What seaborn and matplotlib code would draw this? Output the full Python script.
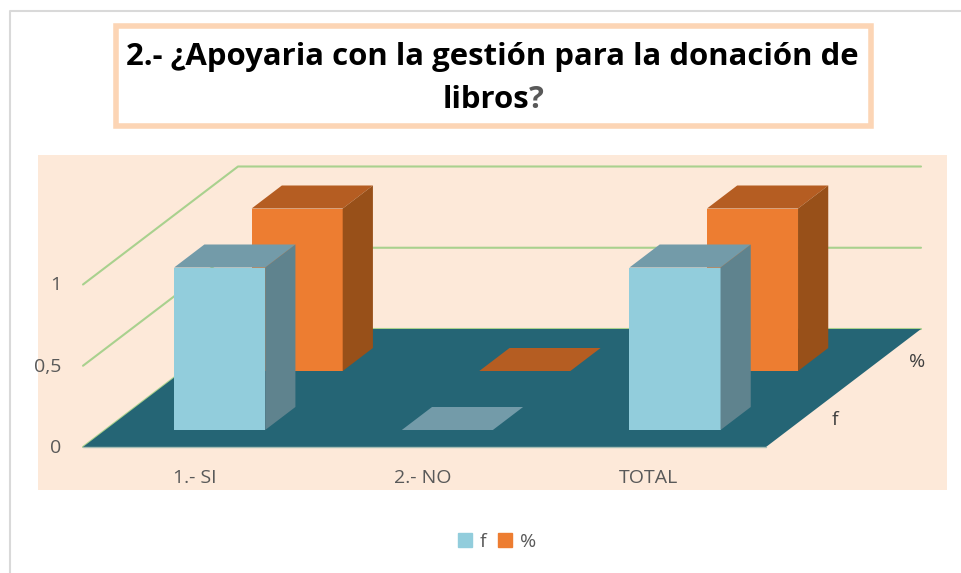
import numpy as np
import seaborn as sns
from matplotlib import pyplot as plt
from matplotlib.patches import Patch, Polygon, Rectangle

categories = ["1.- SI", "2.- NO", "TOTAL"]
f_values = [1, 0, 1]
pct_values = [1, 0, 1]
y_ticks = [0, 0.5, 1]
y_tick_labels = ["0", "0,5", "1"]
wall_levels = [0.5, 1]

W, H = 961, 573
PX_X = 227.67   # pixels per category
PX_Y = 162.5    # pixels per value unit
DEPTH_X = 155 / PX_X   # full floor depth, in data units
DEPTH_Y = 118 / PX_Y
BAR_DEPTH = 0.195
BAR_W = 0.4
TEXT = "#595959"

sns.set_theme(style="white")
plt.rcParams["font.family"] = ["Open Sans", "DejaVu Sans"]

fig = plt.figure(figsize=(W / 100, H / 100), dpi=100, facecolor="white")

# pixel axes for the page furniture
page = fig.add_axes([0, 0, 1, 1], zorder=0)
page.set_xlim(0, W)
page.set_ylim(H, 0)
page.axis("off")
page.plot([10, 10, W], [H, 11, 11], color="#d9d9d9", lw=1.5)
page.add_patch(Rectangle((38, 155), 909, 335, color="#fde9d9", lw=0))
page.add_patch(Rectangle((116, 26), 755, 100, fc="white", ec="#fcd5b5", lw=4))

line1 = page.text(492.5, 57, "2.- ¿Apoyaria con la gestión para la donación de",
                  ha="center", va="center", fontsize=22.4, fontweight="bold", color="black")
line2 = page.text(485.5, 100, "libros", ha="center", va="center",
                  fontsize=22.4, fontweight="bold", color="black")
page.annotate("?", xy=(1, 0), xycoords=line2, va="bottom", ha="left",
              fontsize=22.4, fontweight="bold", color="#595959")

# chart axes: x in categories, y in values
ax = fig.add_axes([0, 0, 1, 1], zorder=1)
ax.patch.set_alpha(0)
x_left = -0.5 - 83 / PX_X
y_bottom = -(H - 447) / PX_Y


def set_limits():
    ax.set_xlim(x_left, x_left + W / PX_X)
    ax.set_ylim(y_bottom, y_bottom + H / PX_Y)


# floor and walls
x0, x1 = -0.5, len(categories) - 0.5
ax.add_patch(Polygon([(x0, 0), (x1, 0), (x1 + DEPTH_X, DEPTH_Y), (x0 + DEPTH_X, DEPTH_Y)],
                     fc="#256575", ec="none", zorder=1))
ax.plot([x0, x0 + DEPTH_X, x1 + DEPTH_X], [0, DEPTH_Y, DEPTH_Y], color="#a9d18e", lw=1.5, zorder=0.5)
ax.plot([x0, x1], [0, 0], color="#a7bdb5", lw=1, zorder=1.1)
for level in wall_levels:
    ax.plot([x0, x0 + DEPTH_X, x1 + DEPTH_X],
            [level, level + DEPTH_Y, level + DEPTH_Y], color="#a9d18e", lw=1.5, zorder=0.5)


def draw_series(values, depth, front, top, side, z):
    xs = np.arange(len(values)) + DEPTH_X * depth + 0.5 / PX_X
    before = len(ax.patches)
    sns.barplot(x=xs, y=values, native_scale=True, width=BAR_W, color=front,
                saturation=1, linewidth=0, ax=ax, zorder=z)
    dy = DEPTH_Y * depth
    dxb, dyb = DEPTH_X * BAR_DEPTH, DEPTH_Y * BAR_DEPTH
    for bar in ax.patches[before:]:
        bar.set_y(dy)
        bx, bw, bh = bar.get_x(), bar.get_width(), bar.get_height()
        ytop = dy + bh
        ax.add_patch(Polygon([(bx, ytop), (bx + bw, ytop), (bx + bw + dxb, ytop + dyb), (bx + dxb, ytop + dyb)],
                             fc=top, ec="none", zorder=z))
        if bh > 0:
            ax.add_patch(Polygon([(bx + bw, dy), (bx + bw + dxb, dy + dyb), (bx + bw + dxb, ytop + dyb), (bx + bw, ytop)],
                                 fc=side, ec="none", zorder=z))


draw_series(pct_values, 0.644, "#ed7d31", "#b55d22", "#985019", 2)
draw_series(f_values, 0.144, "#92cddc", "#739ba9", "#5f838e", 3)

set_limits()
ax.axis("off")

for tick, label in zip(y_ticks, y_tick_labels):
    ax.text(x0 - 22 / PX_X, tick - 1 / PX_Y, label, ha="right", va="center", fontsize=14, color=TEXT)
for i, label in enumerate(categories):
    ax.text(i - (4 if i == 2 else 2) / PX_X, -31 / PX_Y, label, ha="center", va="center", fontsize=14, color=TEXT)
ax.text(x1 + DEPTH_X * 0.144 + 47 / PX_X, DEPTH_Y * 0.144 + 10 / PX_Y, "f", ha="center", va="center", fontsize=14, color="#404040")
ax.text(x1 + DEPTH_X * 0.644 + 51 / PX_X, DEPTH_Y * 0.644 + 9 / PX_Y, "%", ha="center", va="center", fontsize=14, color="#404040")

handles = [Patch(color="#92cddc", label="f"), Patch(color="#ed7d31", label="%")]
leg = fig.legend(handles=handles, loc="center", bbox_to_anchor=(497 / W, 1 - 542 / H), ncol=2,
                 frameon=False, fontsize=14, handlelength=0.72, handleheight=0.72,
                 handletextpad=0.4, columnspacing=0.6, labelcolor=TEXT)

fig.savefig("out.png", dpi=100, facecolor="white")
